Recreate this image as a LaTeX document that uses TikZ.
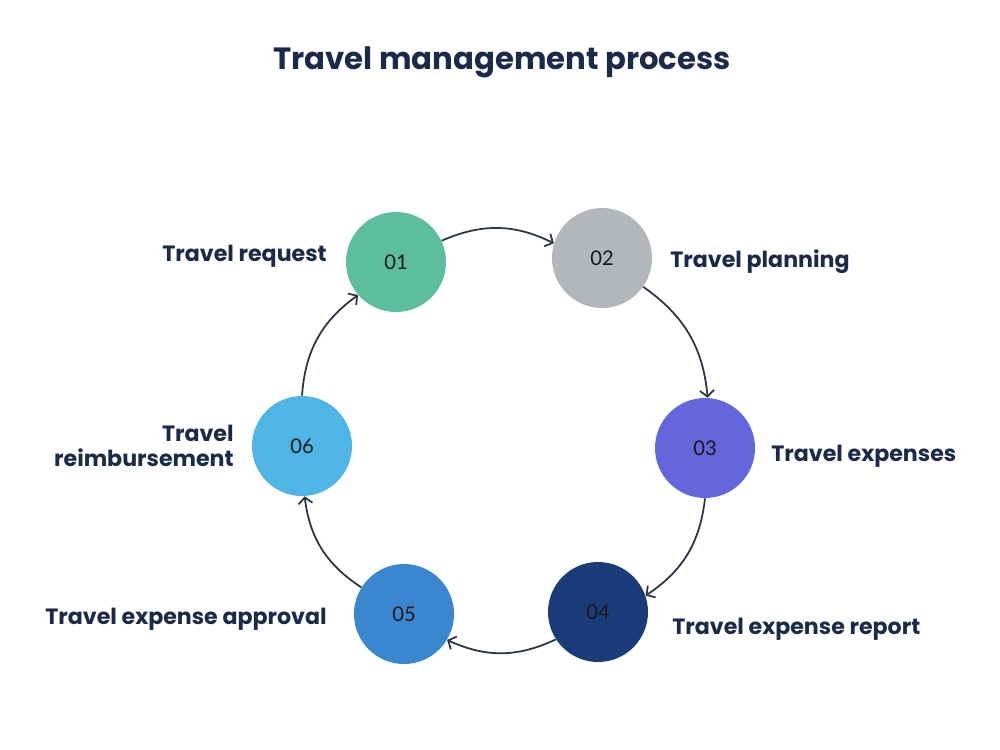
\documentclass[tikz,border=0pt]{standalone}
\usepackage{fontspec}
\setmainfont{Poppins}
\newfontfamily\numfont{Lato}
\usetikzlibrary{arrows.meta}

\definecolor{titlenavy}{HTML}{1B2A48}
\definecolor{linedark}{HTML}{2B3444}
\definecolor{stageA}{HTML}{5DBE9E}
\definecolor{stageB}{HTML}{B3B7BC}
\definecolor{stageC}{HTML}{6466DC}
\definecolor{stageD}{HTML}{1A3D7A}
\definecolor{stageE}{HTML}{3A86CF}
\definecolor{stageF}{HTML}{4FB5E4}

\tikzset{
    stage/.style={circle, minimum size=2cm, inner sep=0pt,
        font=\numfont\fontsize{11.5pt}{13pt}\selectfont, text=black!90},
    steplabel/.style={font=\bfseries\fontsize{12.6pt}{14.5pt}\selectfont, text=titlenavy, inner sep=0pt},
    flow/.style={draw=linedark, line width=1pt, -{Straight Barb[length=3.5pt,width=8pt]}}
}

\begin{document}
\begin{tikzpicture}[x=0.02cm, y=-0.02cm]
    \useasboundingbox (0,0) rectangle (1000,750);
    \fill[white] (0,0) rectangle (1000,750);

    \node[font=\bfseries\fontsize{17.5pt}{21pt}\selectfont, text=titlenavy] (title) at (502,62) {Travel management process};

    % stages
    \node[stage, fill=stageA] (c1) at (396,262) {01};
    \node[stage, fill=stageB] (c2) at (602,258) {02};
    \node[stage, fill=stageC] (c3) at (705,448) {03};
    \node[stage, fill=stageD] (c4) at (598,612) {04};
    \node[stage, fill=stageE] (c5) at (404,614) {05};
    \node[stage, fill=stageF] (c6) at (302,446) {06};

    % labels
    \node[steplabel, anchor=east] (l1) at (327,256) {Travel request};
    \node[steplabel, anchor=west] (l2) at (670,262) {Travel planning};
    \node[steplabel, anchor=west] (l3) at (771,456) {Travel expenses};
    \node[steplabel, anchor=west] (l4) at (672,629) {Travel expense report};
    \node[steplabel, anchor=east] (l5) at (327,619) {Travel expense approval};
    \node[steplabel, anchor=east, align=right] (l6) at (234,446) {Travel\\reimbursement};

    % connectors
    \draw[flow] (c1.25) to[bend left=25] (c2.163);
    \draw[flow] (c2.-35) to[bend left=25] (c3.87);
    \draw[flow] (c3.-90) to[bend left=25] (c4.19);
    \draw[flow] (c4.213) to[bend left=25] (c5.-31);
    \draw[flow] (c5.148) to[bend left=25] (c6.-87);
    \draw[flow] (c6.90) to[bend left=25] (c1.221);
\end{tikzpicture}
\end{document}
